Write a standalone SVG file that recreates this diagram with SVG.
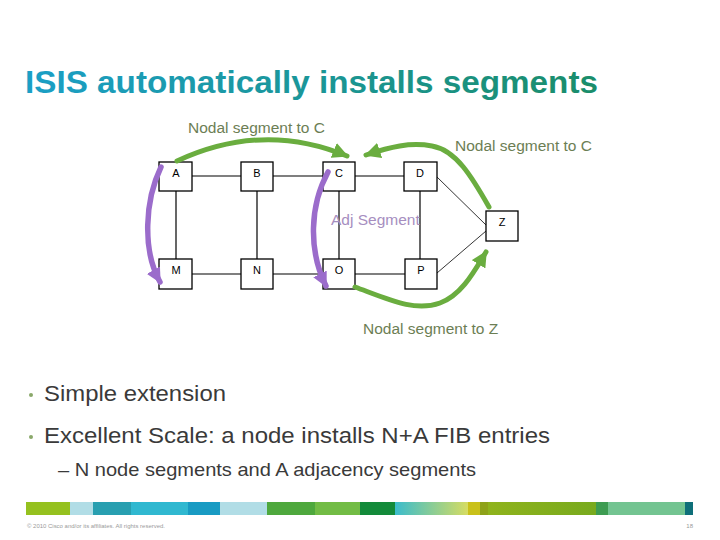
<svg xmlns="http://www.w3.org/2000/svg" width="720" height="540" viewBox="0 0 720 540">
<defs>
<linearGradient id="tg" x1="0" y1="0" x2="1" y2="0">
<stop offset="0" stop-color="#1b9fc6"/>
<stop offset="1" stop-color="#1a8d6a"/>
</linearGradient>
<linearGradient id="bg1" x1="0" y1="0" x2="1" y2="0">
<stop offset="0" stop-color="#3bbccc"/>
<stop offset="1" stop-color="#d6dc62"/>
</linearGradient>
<linearGradient id="bg2" x1="0" y1="0" x2="1" y2="0">
<stop offset="0" stop-color="#8fb31c"/>
<stop offset="1" stop-color="#78aa1e"/>
</linearGradient>
<marker id="ag" viewBox="0 0 10 10" refX="9" refY="5" markerWidth="16" markerHeight="16" markerUnits="userSpaceOnUse" orient="auto">
<path d="M0,0 L10,5 L0,10 z" fill="#6aad3f"/>
</marker>
<marker id="ap" viewBox="0 0 10 10" refX="9" refY="5" markerWidth="15" markerHeight="15" markerUnits="userSpaceOnUse" orient="auto">
<path d="M0,0 L10,5 L0,10 z" fill="#9b6ccb"/>
</marker>
</defs>
<style>
.node rect{fill:#fff;stroke:#000;stroke-width:1.3}
.node text{font-family:"Liberation Sans",Arial,sans-serif;font-size:11px;fill:#000;text-anchor:middle}
.link{stroke:#000;stroke-width:1.2;fill:none}
.thin{stroke:#000;stroke-width:0.8;fill:none}
.g{fill:none;stroke:#6aad3f;stroke-width:5;stroke-linecap:round}
.p{fill:none;stroke:#9b6ccb;stroke-width:5.5;stroke-linecap:round}
.lbl{font-family:"Liberation Sans",Arial,sans-serif;font-size:15.5px}
.body{font-family:"Liberation Sans",Arial,sans-serif;fill:#3a3a3a}
</style>
<rect width="720" height="540" fill="#fff"/>
<text x="25" y="93" font-family="'Liberation Sans',Arial,sans-serif" font-weight="bold" font-size="32" fill="url(#tg)" textLength="573" lengthAdjust="spacingAndGlyphs">ISIS automatically installs segments</text>

<g id="connectors">
<line class="link" x1="192" y1="176" x2="241" y2="176"/>
<line class="link" x1="273" y1="176" x2="323" y2="176"/>
<line class="link" x1="355" y1="176" x2="404" y2="176"/>
<line class="link" x1="192" y1="274" x2="241" y2="274"/>
<line class="link" x1="273" y1="274" x2="323" y2="274"/>
<line class="link" x1="355" y1="274" x2="405" y2="274"/>
<line class="link" x1="176" y1="191" x2="176" y2="259"/>
<line class="link" x1="257" y1="191" x2="257" y2="259"/>
<line class="link" x1="339" y1="191" x2="339" y2="259"/>
<line class="link" x1="420" y1="191" x2="420" y2="259"/>
<line class="thin" x1="437" y1="177" x2="486" y2="225"/>
<line class="thin" x1="437" y1="273" x2="486" y2="231"/>
</g>

<g id="node-A" class="node"><rect x="159" y="162" width="33" height="29"/><text x="176" y="177">A</text></g>
<g id="node-B" class="node"><rect x="241" y="162" width="32" height="29"/><text x="257" y="177">B</text></g>
<g id="node-C" class="node"><rect x="323" y="162" width="32" height="29"/><text x="339" y="177">C</text></g>
<g id="node-D" class="node"><rect x="404" y="162" width="33" height="29"/><text x="420" y="177">D</text></g>
<g id="node-M" class="node"><rect x="159" y="259" width="33" height="30"/><text x="176" y="274">M</text></g>
<g id="node-N" class="node"><rect x="241" y="259" width="32" height="30"/><text x="257" y="274">N</text></g>
<g id="node-O" class="node"><rect x="323" y="259" width="32" height="30"/><text x="339" y="274">O</text></g>
<g id="node-P" class="node"><rect x="405" y="259" width="32" height="30"/><text x="421" y="274">P</text></g>
<g id="node-Z" class="node"><rect x="486" y="211" width="32" height="30"/><text x="502" y="226">Z</text></g>

<g id="segments">
<path class="g" d="M177,161 Q263,121 347,156" marker-end="url(#ag)"/>
<path class="g" d="M489,207 C472,177 456,150 432,146 C410,142 390,147 366,155" marker-end="url(#ag)"/>
<path class="g" d="M355,287 C390,300 415,312 440,303 C462,295 475,270 486,252" marker-end="url(#ag)"/>
<path class="p" d="M161,167 C145,200 142,250 160,282" marker-end="url(#ap)"/>
<path class="p" d="M328,172 C310,205 308,250 326,286" marker-end="url(#ap)"/>
</g>

<text class="lbl" x="188" y="133" fill="#6c7e54">Nodal segment to C</text>
<text class="lbl" x="455" y="151" fill="#6c7e54">Nodal segment to C</text>
<text class="lbl" x="331" y="225" fill="#a68ebf">Adj Segment</text>
<text class="lbl" x="363" y="334" fill="#6c7e54">Nodal segment to Z</text>

<circle cx="31" cy="395" r="2" fill="#8aa86a"/>
<circle cx="31" cy="437" r="2" fill="#8aa86a"/>
<text class="body" x="44" y="401" font-size="22" textLength="182" lengthAdjust="spacingAndGlyphs">Simple extension</text>
<text class="body" x="44" y="443" font-size="22" textLength="506" lengthAdjust="spacingAndGlyphs">Excellent Scale: a node installs N+A FIB entries</text>
<text class="body" x="58" y="476" font-size="18.5" textLength="418" lengthAdjust="spacingAndGlyphs">– N node segments and A adjacency segments</text>

<g id="footer-bar">
<rect x="26" y="502" width="44" height="13" fill="#95c11f"/>
<rect x="70" y="502" width="23" height="13" fill="#b1dde6"/>
<rect x="93" y="502" width="38" height="13" fill="#289fb0"/>
<rect x="131" y="502" width="57" height="13" fill="#30b8d0"/>
<rect x="188" y="502" width="32" height="13" fill="#199bc3"/>
<rect x="220" y="502" width="47" height="13" fill="#b1dde6"/>
<rect x="267" y="502" width="48" height="13" fill="#4ea83d"/>
<rect x="315" y="502" width="45" height="13" fill="#72bc45"/>
<rect x="360" y="502" width="35" height="13" fill="#138a3a"/>
<rect x="395" y="502" width="73" height="13" fill="url(#bg1)"/>
<rect x="468" y="502" width="12" height="13" fill="#c9c11a"/>
<rect x="480" y="502" width="8" height="13" fill="#8ea219"/>
<rect x="488" y="502" width="108" height="13" fill="url(#bg2)"/>
<rect x="596" y="502" width="12" height="13" fill="#3d9c52"/>
<rect x="608" y="502" width="77" height="13" fill="#73c491"/>
<rect x="685" y="502" width="8" height="13" fill="#0e6f79"/>
</g>
<text x="27" y="528" font-family="'Liberation Sans',Arial,sans-serif" font-size="5.5" fill="#9a9a9a" textLength="138" lengthAdjust="spacingAndGlyphs">© 2010 Cisco and/or its affiliates. All rights reserved.</text>
<text x="693" y="528" font-family="'Liberation Sans',Arial,sans-serif" font-size="6" fill="#9a9a9a" text-anchor="end">18</text>
</svg>
